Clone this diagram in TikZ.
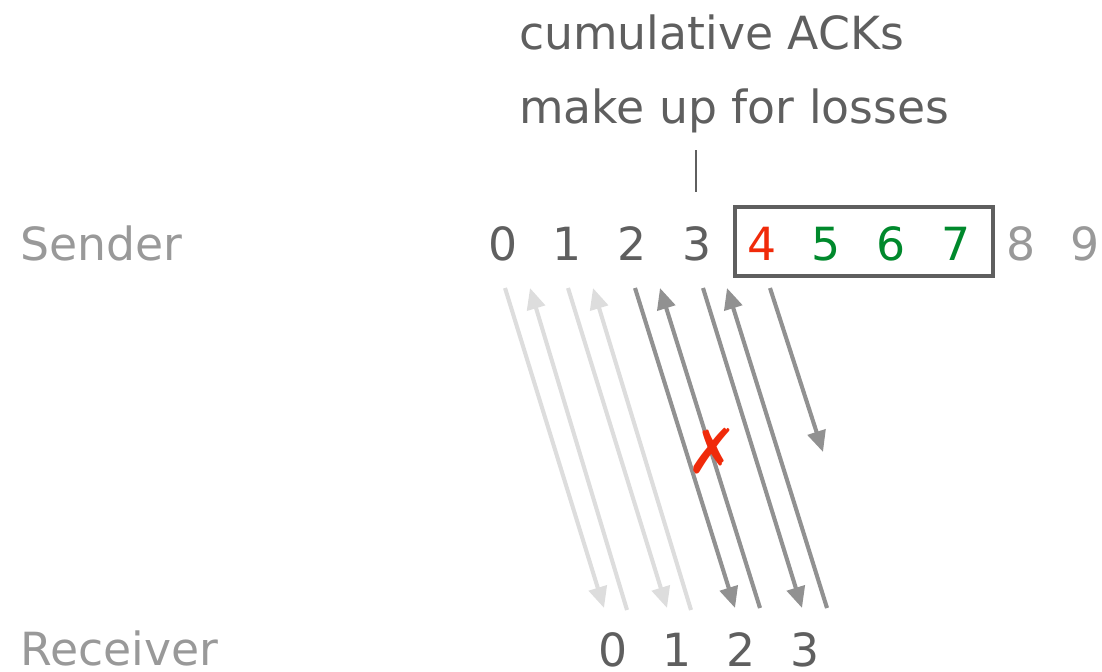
\documentclass[tikz,border=0pt]{standalone}
\usepackage{fontspec}
\setmainfont{DejaVu Sans}
\usetikzlibrary{arrows.meta}
\definecolor{darktext}{HTML}{5F5F5F}
\definecolor{lighttext}{HTML}{999999}
\definecolor{lightline}{HTML}{DDDDDD}
\definecolor{darkline}{HTML}{919191}
\definecolor{lossred}{HTML}{F02A0A}
\definecolor{okgreen}{HTML}{00892C}
\tikzset{
  txt/.style={font=\fontsize{32.5}{39}\selectfont, inner sep=0pt},
  label/.style={txt, anchor=base west, text=lighttext},
  note/.style={txt, anchor=base west, text=darktext},
  digit/.style={txt, anchor=base},
  pkt/.style={line width=2.9pt, -{Triangle[length=15pt,width=13pt]}},
  oldpkt/.style={pkt, lightline},
  curpkt/.style={pkt, darkline},
  winbox/.style={draw=darktext, line width=2.2pt},
}
\begin{document}
\begin{tikzpicture}[x=0.025cm,y=-0.025cm]
\useasboundingbox (0,0) rectangle (1102,671);
% notes
\node[note] (n1) at (519,49) {cumulative ACKs};
\node[note] (n2) at (519,123) {make up for losses};
\coordinate (tickTop) at (696,150);
\coordinate (tickBot) at (696,192);
\draw[darktext, line width=0.9pt] (tickTop) -- (tickBot);
% labels
\node[label] (snd) at (20,260) {Sender};
\node[label] (rcv) at (20,665) {Receiver};
% sender digits
\node[digit, text=darktext] (s0) at (503,260) {0};
\node[digit, text=darktext] (s1) at (567,260) {1};
\node[digit, text=darktext] (s2) at (632,260) {2};
\node[digit, text=darktext] (s3) at (697,260) {3};
\node[digit, text=lossred] (s4) at (762,260) {4};
\node[digit, text=okgreen] (s5) at (826,260) {5};
\node[digit, text=okgreen] (s6) at (891,260) {6};
\node[digit, text=okgreen] (s7) at (956,260) {7};
\node[digit, text=lighttext] (s8) at (1021,260) {8};
\node[digit, text=lighttext] (s9) at (1085,260) {9};
% window box
\draw[winbox] (735,207) rectangle (993,276);
% receiver digits
\node[digit, text=darktext] (r0) at (613,666) {0};
\node[digit, text=darktext] (r1) at (677,666) {1};
\node[digit, text=darktext] (r2) at (741,666) {2};
\node[digit, text=darktext] (r3) at (805,666) {3};
% endpoints
\coordinate (d0a) at (505,288); \coordinate (d0b) at (604,608);
\coordinate (u0a) at (627,610); \coordinate (u0b) at (530,288);
\coordinate (d1a) at (568,288); \coordinate (d1b) at (667,608);
\coordinate (u1a) at (691,610); \coordinate (u1b) at (593,288);
\coordinate (d2a) at (635,288); \coordinate (d2b) at (735,608);
\coordinate (u2a) at (760,608); \coordinate (u2b) at (660,288);
\coordinate (d3a) at (703,288); \coordinate (d3b) at (802,608);
\coordinate (u3a) at (827,608); \coordinate (u3b) at (727,288);
\coordinate (d4a) at (770,288); \coordinate (d4b) at (823,452);
% arrows
\draw[oldpkt] (d0a) -- (d0b);
\draw[oldpkt] (u0a) -- (u0b);
\draw[oldpkt] (d1a) -- (d1b);
\draw[oldpkt] (u1a) -- (u1b);
\draw[curpkt] (d2a) -- (d2b);
\draw[curpkt] (u2a) -- (u2b);
\draw[curpkt] (d3a) -- (d3b);
\draw[curpkt] (u3a) -- (u3b);
\draw[curpkt] (d4a) -- (d4b);
% loss mark
\node[txt, text=lossred, font=\fontsize{44}{48}\selectfont\bfseries] (loss) at (712,451) {✗};
\end{tikzpicture}
\end{document}
